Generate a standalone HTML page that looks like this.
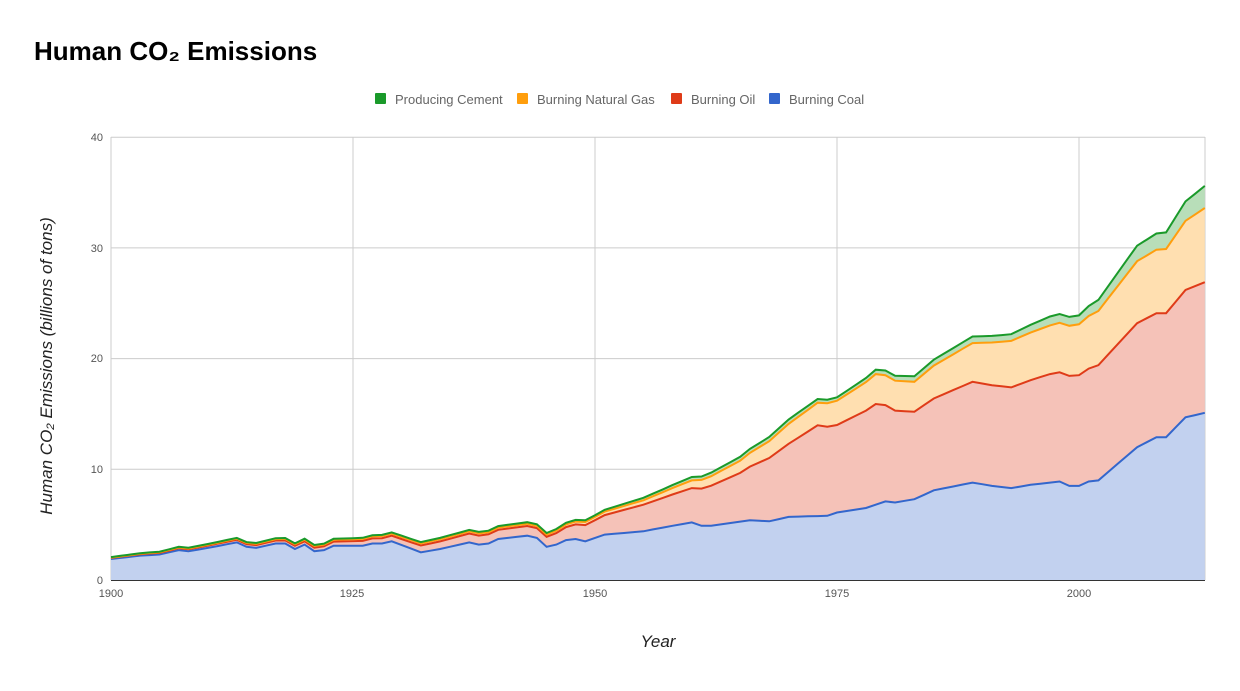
<!DOCTYPE html>
<html><head><meta charset="utf-8"><style>
body{margin:0;background:#fff;width:1240px;height:686px;overflow:hidden;font-family:"Liberation Sans",sans-serif}
</style></head><body>
<svg id="s" width="1240" height="686" xmlns="http://www.w3.org/2000/svg" font-family="Liberation Sans, sans-serif">
<text x="34" y="60" font-size="26" font-weight="bold" fill="#000">Human CO₂ Emissions</text>
<g font-size="13" fill="#666">
<rect x="375" y="93" width="11" height="11" rx="1" fill="#1a9a2a"/><text x="395" y="104">Producing Cement</text>
<rect x="517" y="93" width="11" height="11" rx="1" fill="#ff9e0d"/><text x="537" y="104">Burning Natural Gas</text>
<rect x="671" y="93" width="11" height="11" rx="1" fill="#df3b18"/><text x="691" y="104">Burning Oil</text>
<rect x="769" y="93" width="11" height="11" rx="1" fill="#3366cc"/><text x="789" y="104">Burning Coal</text>
</g>
<g id="grid" stroke="#ccc" stroke-width="1"></g>
<g id="areas"></g>
<g font-size="11" fill="#555" text-anchor="middle">
<text x="111" y="597">1900</text><text x="352" y="597">1925</text><text x="595" y="597">1950</text><text x="837" y="597">1975</text><text x="1079" y="597">2000</text>
</g>
<g font-size="11" fill="#555" text-anchor="end">
<text x="103" y="584">0</text><text x="103" y="473">10</text><text x="103" y="362">20</text><text x="103" y="252">30</text><text x="103" y="141">40</text>
</g>
<text x="658" y="647" font-size="17" font-style="italic" fill="#222" text-anchor="middle">Year</text>
<text transform="translate(52,366) rotate(-90)" font-size="17" font-style="italic" fill="#222" text-anchor="middle">Human CO₂ Emissions (billions of tons)</text>
</svg>
<script>
const X=y=>111+(y-1900)*9.68, Y=v=>580-v*11.07;
const coalK=[[1900,1.9],[1903,2.2],[1905,2.3],[1907,2.7],[1908,2.6],[1910,2.9],[1913,3.4],[1914,3.0],[1915,2.9],[1917,3.3],[1918,3.3],[1919,2.8],[1920,3.2],[1921,2.6],[1922,2.7],[1923,3.1],[1926,3.1],[1927,3.3],[1928,3.3],[1929,3.5],[1932,2.5],[1934,2.8],[1936,3.2],[1937,3.4],[1938,3.2],[1939,3.3],[1940,3.7],[1943,4.0],[1944,3.8],[1945,3.0],[1946,3.2],[1947,3.6],[1948,3.7],[1949,3.5],[1951,4.1],[1955,4.4],[1958,4.9],[1960,5.2],[1961,4.9],[1962,4.9],[1966,5.4],[1968,5.3],[1970,5.7],[1974,5.8],[1975,6.1],[1978,6.5],[1980,7.1],[1981,7.0],[1983,7.3],[1985,8.1],[1989,8.8],[1991,8.5],[1993,8.3],[1995,8.6],[1998,8.9],[1999,8.5],[2000,8.5],[2001,8.9],[2002,9.0],[2006,12.0],[2008,12.9],[2009,12.9],[2011,14.7],[2013,15.1]];
const oilK=[[1900,.1],[1920,.3],[1929,.5],[1937,.8],[1945,.9],[1950,1.6],[1955,2.4],[1960,3.1],[1965,4.4],[1970,6.6],[1973,8.2],[1975,7.9],[1979,9.1],[1981,8.3],[1983,7.9],[1989,9.1],[1993,9.1],[1997,9.8],[2000,10.0],[2002,10.4],[2006,11.2],[2009,11.2],[2013,11.8]];
const gasK=[[1900,.02],[1929,.2],[1945,.2],[1950,.3],[1955,.4],[1960,.7],[1965,1.1],[1970,1.8],[1975,2.2],[1979,2.7],[1983,2.7],[1989,3.5],[1993,4.2],[1997,4.4],[2000,4.6],[2002,4.9],[2006,5.6],[2009,5.8],[2013,6.7]];
const cemK=[[1900,.05],[1929,.1],[1945,.15],[1950,.15],[1960,.3],[1970,.4],[1975,.3],[1979,.4],[1983,.5],[1989,.6],[1993,.6],[1997,.8],[2000,.8],[2002,1.0],[2006,1.4],[2009,1.5],[2013,2.0]];
function interp(K,y){for(let i=0;i<K.length-1;i++){if(y>=K[i][0]&&y<=K[i+1][0]){const t=(y-K[i][0])/(K[i+1][0]-K[i][0]);return K[i][1]+t*(K[i+1][1]-K[i][1]);}}return K[K.length-1][1];}
const yrs=[];for(let y=1900;y<=2013;y++)yrs.push(y);
const L=[yrs.map(y=>interp(coalK,y))];
[oilK,gasK,cemK].forEach((K,i)=>L.push(yrs.map((y,j)=>L[i][j]+interp(K,y))));
const fills=["#c2d1ef","#f5c2b8","#ffdfb0","#b8deb9"],strokes=["#3366cc","#df3b18","#ff9e0d","#1a9a2a"];
let g='',a='';
for(let v=0;v<=40;v+=10)g+=`<line x1="111" x2="1205" y1="${Y(v)}" y2="${Y(v)}"/>`;
[1900,1925,1950,1975,2000].forEach(y=>g+=`<line x1="${X(y)}" x2="${X(y)}" y1="137" y2="580"/>`);
g+=`<line x1="1205" x2="1205" y1="137" y2="580"/>`;
document.getElementById('grid').innerHTML=g;
const pts=arr=>yrs.map((y,j)=>X(y).toFixed(1)+','+Y(arr[j]).toFixed(1));
for(let i=0;i<4;i++){const top=pts(L[i]);const bot=i?pts(L[i-1]).reverse():[X(2013)+','+580,X(1900)+','+580];
a+=`<polygon points="${top.join(' ')} ${bot.join(' ')}" fill="${fills[i]}"/>`;}
for(let i=0;i<4;i++)a+=`<polyline points="${pts(L[i]).join(' ')}" fill="none" stroke="${strokes[i]}" stroke-width="2"/>`;
a+=`<line x1="111" x2="1205" y1="580.5" y2="580.5" stroke="#333"/>`;
document.getElementById('areas').innerHTML=a;
</script>
</body></html>
